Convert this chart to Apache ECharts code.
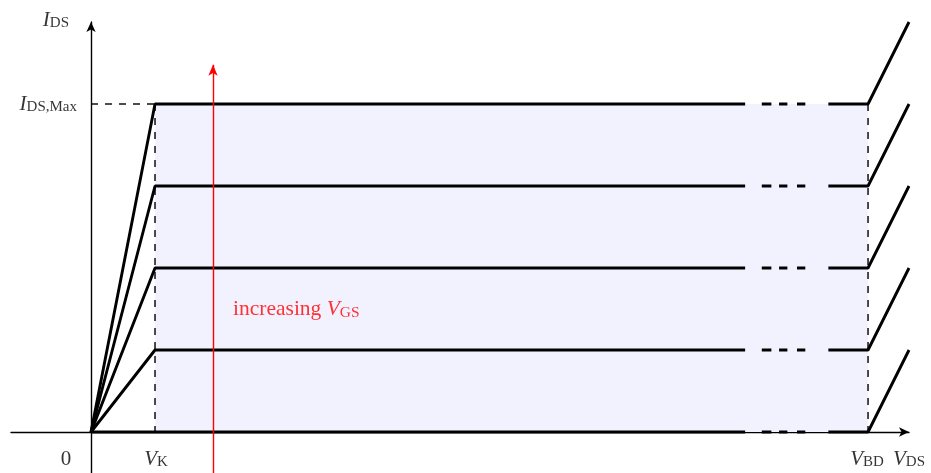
<!DOCTYPE html>
<html>
<head>
<meta charset="utf-8">
<script src="https://cdn.jsdelivr.net/npm/echarts@6/dist/echarts.min.js"></script>
<style>
html, body { margin: 0; background: #fff; }
#chart { width: 931px; height: 473px; }
</style>
</head>
<body>
<div id="chart"></div>
<script>
// current levels reached in saturation, one per gate voltage step
const levels = [0, 1, 2, 3, 4]
const vKnee = 1
const vBreak = 12.14
const vEnd = 12.78
const solidEnd = 10.22
const solidRestart = 11.52
const dashSegments = [[10.48, 10.63], [10.75, 10.88], [11.03, 11.16]]
const iMax = 4

// red "increasing V_GS" arrow
const arrowX = 1.906
const arrowFrom = -0.5
const arrowTo = 4.48

// dashed guide lines
const guides = [
  [[0, iMax], [vKnee, iMax]],
  [[vKnee, iMax], [vKnee, 0]],
  [[vBreak, iMax], [vBreak, 0]],
]

// text labels: anchor, formatter
const labelAnchors = [[0, 5], [0, iMax], [0, 0], [vKnee, 0], [vBreak, 0], [vEnd, 0], [arrowX, 1.5]]
const labelTexts = ['{i|I}{s|DS}', '{i|I}{s|DS,Max}', '{n|0}', '{i|V}{s|K}', '{i|V}{s|BD}', '{i|V}{s|DS}', '{rn|increasing }{ri|V}{rs|GS}']

const FONT = "'Liberation Serif', 'DejaVu Serif', serif"
const chart = echarts.init(document.getElementById('chart'), null, { renderer: 'canvas' })

function curve(k) {
  const d = [[0, 0], [vKnee, k], [solidEnd, k], [solidEnd, '-']]
  dashSegments.forEach(([a, b]) => { d.push([a, k], [b, k], [b, '-']) })
  d.push([solidRestart, k], [vBreak, k], [vEnd, k + 1])
  return d
}

const labelPlacement = [
  { position: 'left', distance: 22, offset: [0, -2] },
  { position: 'left', distance: 14, offset: [0, 0] },
  { position: 'inside', offset: [-25, 27] },
  { position: 'inside', offset: [1, 27] },
  { position: 'inside', offset: [-1, 27] },
  { position: 'inside', offset: [0, 27] },
  { position: 'right', distance: 20, offset: [0, 0] },
]

const rich = {
  i: { fontFamily: FONT, fontSize: 21, fontStyle: 'italic', color: '#000' },
  s: { fontFamily: FONT, fontSize: 15, color: '#000', padding: [7, 0, 0, 0] },
  n: { fontFamily: FONT, fontSize: 21, color: '#000' },
  rn: { fontFamily: FONT, fontSize: 21.5, color: '#ff0000' },
  ri: { fontFamily: FONT, fontSize: 21.5, fontStyle: 'italic', color: '#ff0000' },
  rs: { fontFamily: FONT, fontSize: 15.5, color: '#ff0000', padding: [7, 0, 0, 0] },
}

const series = [
  {
    type: 'line',
    data: [],
    z: 1,
    silent: true,
    markArea: {
      silent: true,
      itemStyle: { color: '#f2f2ff' },
      data: [[{ coord: [vKnee, 0] }, { coord: [vBreak, iMax] }]],
    },
  },
  ...guides.map(g => ({
    type: 'line',
    data: g,
    z: 2,
    symbol: 'none',
    silent: true,
    lineStyle: { color: '#000', width: 1.4, type: [7, 7] },
  })),
  ...levels.map(k => ({
    type: 'line',
    data: curve(k),
    z: 3,
    symbol: 'none',
    clip: false,
    silent: true,
    connectNulls: false,
    lineStyle: { color: '#000', width: 2.9, cap: 'butt' },
  })),
  {
    type: 'scatter',
    z: 4,
    symbolSize: 0,
    silent: true,
    clip: false,
    data: labelAnchors.map((v, i) => ({
      value: v,
      label: { show: true, formatter: labelTexts[i], rich, ...labelPlacement[i] },
    })),
    markLine: {
      silent: true,
      symbol: ['none', 'arrow'],
      symbolSize: [7, 11],
      label: { show: false },
      lineStyle: { color: '#ff0000', width: 1.4, type: 'solid' },
      data: [[{ coord: [arrowX, arrowFrom] }, { coord: [arrowX, arrowTo] }]],
    },
  },
]

chart.setOption({
  animation: false,
  backgroundColor: '#fff',
  grid: { left: 11, right: 22, top: 22, bottom: 0 },
  xAxis: {
    type: 'value',
    min: -1.25,
    max: vEnd,
    axisLine: { lineStyle: { color: '#000', width: 1.4 }, symbol: ['none', 'arrow'], symbolSize: [7, 10] },
    axisTick: { show: false },
    axisLabel: { show: false },
    splitLine: { show: false },
  },
  yAxis: {
    type: 'value',
    min: -0.5,
    max: 5,
    axisLine: { lineStyle: { color: '#000', width: 1.4 }, symbol: ['none', 'arrow'], symbolSize: [7, 10] },
    axisTick: { show: false },
    axisLabel: { show: false },
    splitLine: { show: false },
  },
  series,
})
</script>
</body>
</html>
